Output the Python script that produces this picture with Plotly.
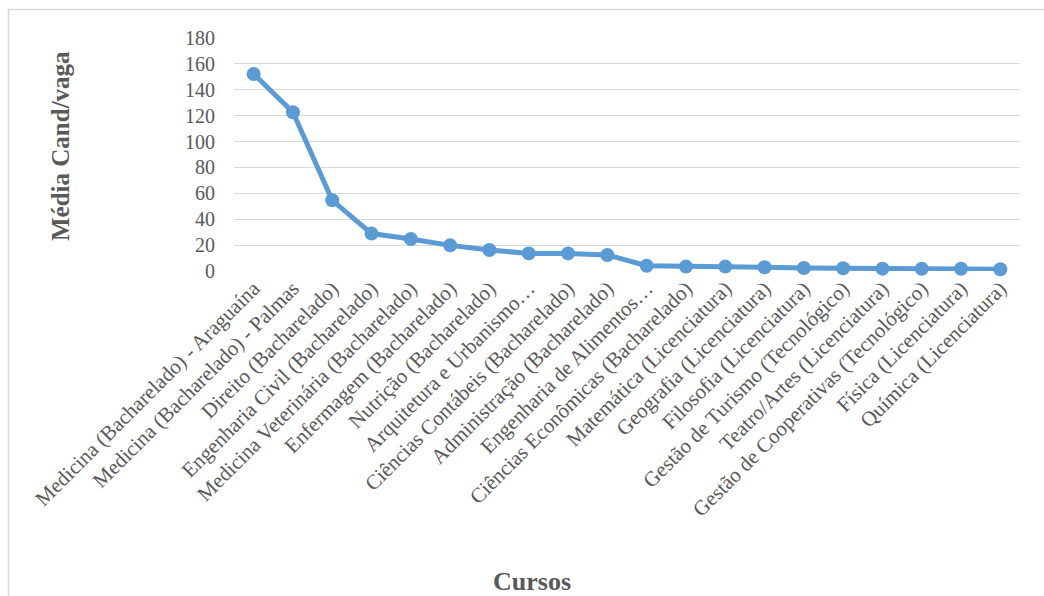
import plotly.graph_objects as go

cursos = [
    "Medicina (Bacharelado) - Araguaína",
    "Medicina (Bacharelado) - Palmas",
    "Direito (Bacharelado)",
    "Engenharia Civil (Bacharelado)",
    "Medicina Veterinária (Bacharelado)",
    "Enfermagem (Bacharelado)",
    "Nutrição (Bacharelado)",
    "Arquitetura e Urbanismo…",
    "Ciências Contábeis (Bacharelado)",
    "Administração (Bacharelado)",
    "Engenharia de Alimentos…",
    "Ciências Econômicas (Bacharelado)",
    "Matemática (Licenciatura)",
    "Geografia (Licenciatura)",
    "Filosofia (Licenciatura)",
    "Gestão de Turismo (Tecnológico)",
    "Teatro/Artes (Licenciatura)",
    "Gestão de Cooperativas (Tecnológico)",
    "Física (Licenciatura)",
    "Química (Licenciatura)",
]
media_cand_vaga = [152.2, 122.6, 54.6, 28.9, 24.7, 19.8, 16.2, 13.6, 13.6, 12.4,
                   4.1, 3.4, 3.4, 2.9, 2.3, 2.1, 1.8, 1.7, 1.7, 1.3]
y_ticks = [0, 20, 40, 60, 80, 100, 120, 140, 160, 180]

text_color = "#595959"
serif = "Liberation Serif, Times New Roman, serif"

fig = go.Figure(
    go.Scatter(
        x=cursos,
        y=media_cand_vaga,
        mode="lines+markers",
        line=dict(color="#5B9BD5", width=5),
        marker=dict(color="#5B9BD5", size=14),
        cliponaxis=False,
    )
)

# Plot area spans x 234..1020 px, y 38..271 px
L, R, T, B = 234, 1020, 38, 271
W, H = 1044, 596

def px_x(p):
    return (p - L) / (R - L)

def px_y(p):
    return (B - p) / (B - T)

fig.update_layout(
    width=W,
    height=H,
    margin=dict(l=L, r=W - R, t=T, b=H - B),
    paper_bgcolor="white",
    plot_bgcolor="white",
    showlegend=False,
    font=dict(family=serif, color=text_color),
    xaxis=dict(
        type="category",
        tickangle=-45,
        tickfont=dict(size=21, family=serif, color=text_color),
        showgrid=False,
        showline=False,
        ticks="",
        zeroline=False,
        range=[-0.5, len(cursos) - 0.5],
    ),
    yaxis=dict(
        range=[0, 180],
        tickvals=y_ticks,
        tickfont=dict(size=20, family=serif, color=text_color),
        showgrid=True,
        gridcolor="#D9D9D9",
        gridwidth=1.3,
        zeroline=False,
        showline=False,
        ticks="",
        ticklabelstandoff=18,
    ),
    shapes=[
        dict(
            type="rect", xref="paper", yref="paper",
            x0=px_x(8.5), x1=px_x(1060), y0=px_y(9.5), y1=px_y(620),
            line=dict(color="#D9D9D9", width=1.5), fillcolor="rgba(0,0,0,0)",
            layer="below",
        )
    ],
    annotations=[
        dict(
            text="<b>Média Cand/vaga</b>", xref="paper", yref="paper",
            x=px_x(60), y=px_y(146), textangle=-90, showarrow=False,
            font=dict(size=25, family=serif, color=text_color),
            xanchor="center", yanchor="middle",
        ),
        dict(
            text="<b>Cursos</b>", xref="paper", yref="paper",
            x=px_x(532), y=px_y(581), showarrow=False,
            font=dict(size=26, family=serif, color=text_color),
            xanchor="center", yanchor="middle",
        ),
    ],
)

fig.write_html("out.html")
